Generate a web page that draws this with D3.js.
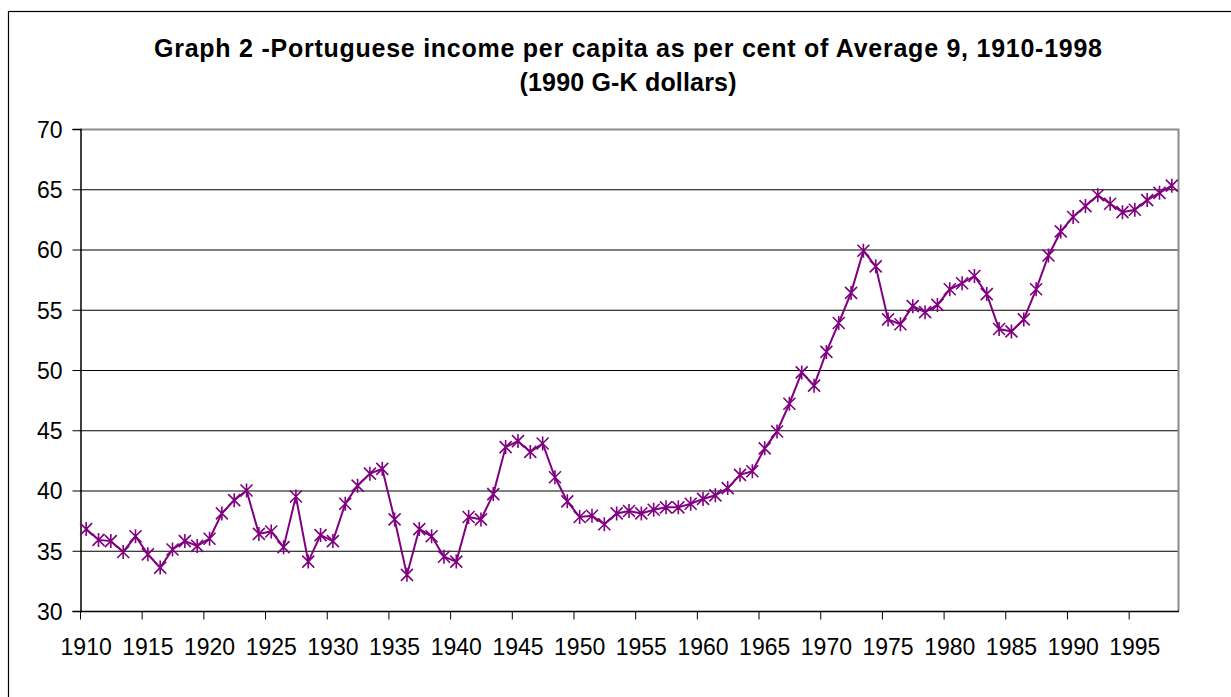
<!DOCTYPE html>
<html>
<head>
<meta charset="utf-8">
<script src="https://cdn.jsdelivr.net/npm/d3@7"></script>
<style>
  body { margin: 0; background: #fff; }
  svg { display: block; font-family: Arial, "Liberation Sans", sans-serif; }
</style>
</head>
<body>
<svg id="chart" width="1231" height="697"></svg>
<script>
// Graph 2 - Portuguese income per capita as % of Average 9

const years = d3.range(1910, 1999);

const share = [
    36.8, 35.9, 35.8, 34.9, 36.2, 34.7, 33.6, 35.1, 35.8, 35.4,   // 1910s
    36.0, 38.1, 39.2, 40.0, 36.4, 36.6, 35.3, 39.5, 34.1, 36.3,   // 1920s
    35.8, 38.9, 40.4, 41.4, 41.8, 37.6, 33.0, 36.8, 36.2, 34.5,   // 1930s
    34.1, 37.8, 37.6, 39.7, 43.6, 44.1, 43.2, 43.9, 41.1, 39.1,   // 1940s
    37.8, 37.9, 37.2, 38.1, 38.3, 38.1, 38.4, 38.6, 38.6, 38.9,   // 1950s
    39.3, 39.6, 40.2, 41.3, 41.6, 43.5, 44.9, 47.2, 49.8, 48.7,   // 1960s
    51.5, 53.9, 56.4, 59.9, 58.6, 54.2, 53.8, 55.3, 54.8, 55.4,   // 1970s
    56.7, 57.2, 57.8, 56.3, 53.4, 53.2, 54.2, 56.7, 59.5, 61.5,   // 1980s
    62.7, 63.6, 64.5, 63.8, 63.1, 63.3, 64.1, 64.7, 65.3          // 1990s
];

const yTicks = [30, 35, 40, 45, 50, 55, 60, 65, 70];
const xLabelYears = d3.range(1910, 1999, 5);

const titleLines = [
    'Graph 2 -Portuguese income per capita as per cent of Average 9, 1910-1998',
    '(1990 G-K dollars)'
];
const titleWidths = [948, 217];

const svg = d3.select('#chart');

// cadre extérieur
svg.append('rect')
    .attr('x', 8.5).attr('y', 11.5)
    .attr('width', 1300).attr('height', 800)
    .attr('fill', 'none')
    .attr('stroke', '#000')
    .attr('stroke-width', 1.2);

const plot = { left: 80, right: 1178, top: 129, bottom: 611 };

const x = d3.scaleBand()
    .domain(years)
    .range([plot.left, plot.right])
    .padding(0);

const y = d3.scaleLinear()
    .domain([30, 70])
    .range([plot.bottom, plot.top]);

const cx = (yr) => x(yr) + x.bandwidth() / 2;

// titre
svg.append('g').selectAll('text')
    .data(titleLines)
    .enter()
    .append('text')
    .attr('x', 628)
    .attr('y', (d, i) => 57 + i * 34)
    .attr('text-anchor', 'middle')
    .attr('textLength', (d, i) => titleWidths[i])
    .attr('lengthAdjust', 'spacing')
    .style('font-weight', 'bold')
    .style('font-size', '25px')
    .style('fill', '#000')
    .text((d) => d);

// grille
svg.append('g')
    .selectAll('line')
    .data(yTicks.filter((t) => t > 30 && t < 70))
    .enter()
    .append('line')
    .attr('x1', plot.left).attr('x2', plot.right)
    .attr('y1', (d) => y(d) + 0.5).attr('y2', (d) => y(d) + 0.5)
    .attr('stroke', '#000')
    .attr('stroke-width', 1);

// bord du graphique (haut et droite gris)
svg.append('path')
    .attr('d', `M${plot.left},${plot.top + 0.5}H${plot.right + 0.5}V${plot.bottom}`)
    .attr('fill', 'none')
    .attr('stroke', '#8c8c8c')
    .attr('stroke-width', 2);

// axe Y
const yAxis = svg.append('g')
    .attr('transform', `translate(${plot.left + 0.5},0)`)
    .call(d3.axisLeft(y).tickValues(yTicks).tickSize(8).tickPadding(10));
yAxis.select('.domain').attr('stroke', '#000').attr('stroke-width', 1.5);
yAxis.selectAll('.tick line').attr('stroke', '#000');
yAxis.selectAll('.tick text')
    .attr('dy', '0.36em')
    .style('font-size', '23px')
    .style('font-family', 'Arial, "Liberation Sans", sans-serif')
    .style('fill', '#000');

// axe X : graduations aux limites des catégories
const xAxis = svg.append('g')
    .attr('transform', `translate(0,${plot.bottom + 0.5})`);
xAxis.append('line')
    .attr('x1', plot.left).attr('x2', plot.right + 1)
    .attr('stroke', '#000').attr('stroke-width', 1.5);
xAxis.selectAll('line.tick')
    .data(xLabelYears)
    .enter()
    .append('line')
    .attr('class', 'tick')
    .attr('x1', (d) => x(d) + 0.5).attr('x2', (d) => x(d) + 0.5)
    .attr('y1', 0).attr('y2', 8)
    .attr('stroke', '#000');
xAxis.selectAll('text')
    .data(xLabelYears)
    .enter()
    .append('text')
    .attr('x', (d) => cx(d))
    .attr('y', 43)
    .attr('text-anchor', 'middle')
    .style('font-size', '23px')
    .style('fill', '#000')
    .text((d) => d);

// série
const color = '#800080';
const points = years.map((yr, i) => ({ year: yr, value: share[i] }));

svg.append('path')
    .datum(points)
    .attr('fill', 'none')
    .attr('stroke', color)
    .attr('stroke-width', 2)
    .attr('d', d3.line().x((d) => cx(d.year)).y((d) => y(d.value)));

// marqueurs étoile (X + trait vertical)
const s = 6;
const star = `M${-s},${-s}L${s},${s}M${-s},${s}L${s},${-s}M0,${-s - 1}L0,${s + 1}`;

svg.append('g')
    .selectAll('path')
    .data(points)
    .enter()
    .append('path')
    .attr('transform', (d) => `translate(${cx(d.year)},${y(d.value)})`)
    .attr('d', star)
    .attr('fill', 'none')
    .attr('stroke', color)
    .attr('stroke-width', 1.6);
</script>
</body>
</html>
